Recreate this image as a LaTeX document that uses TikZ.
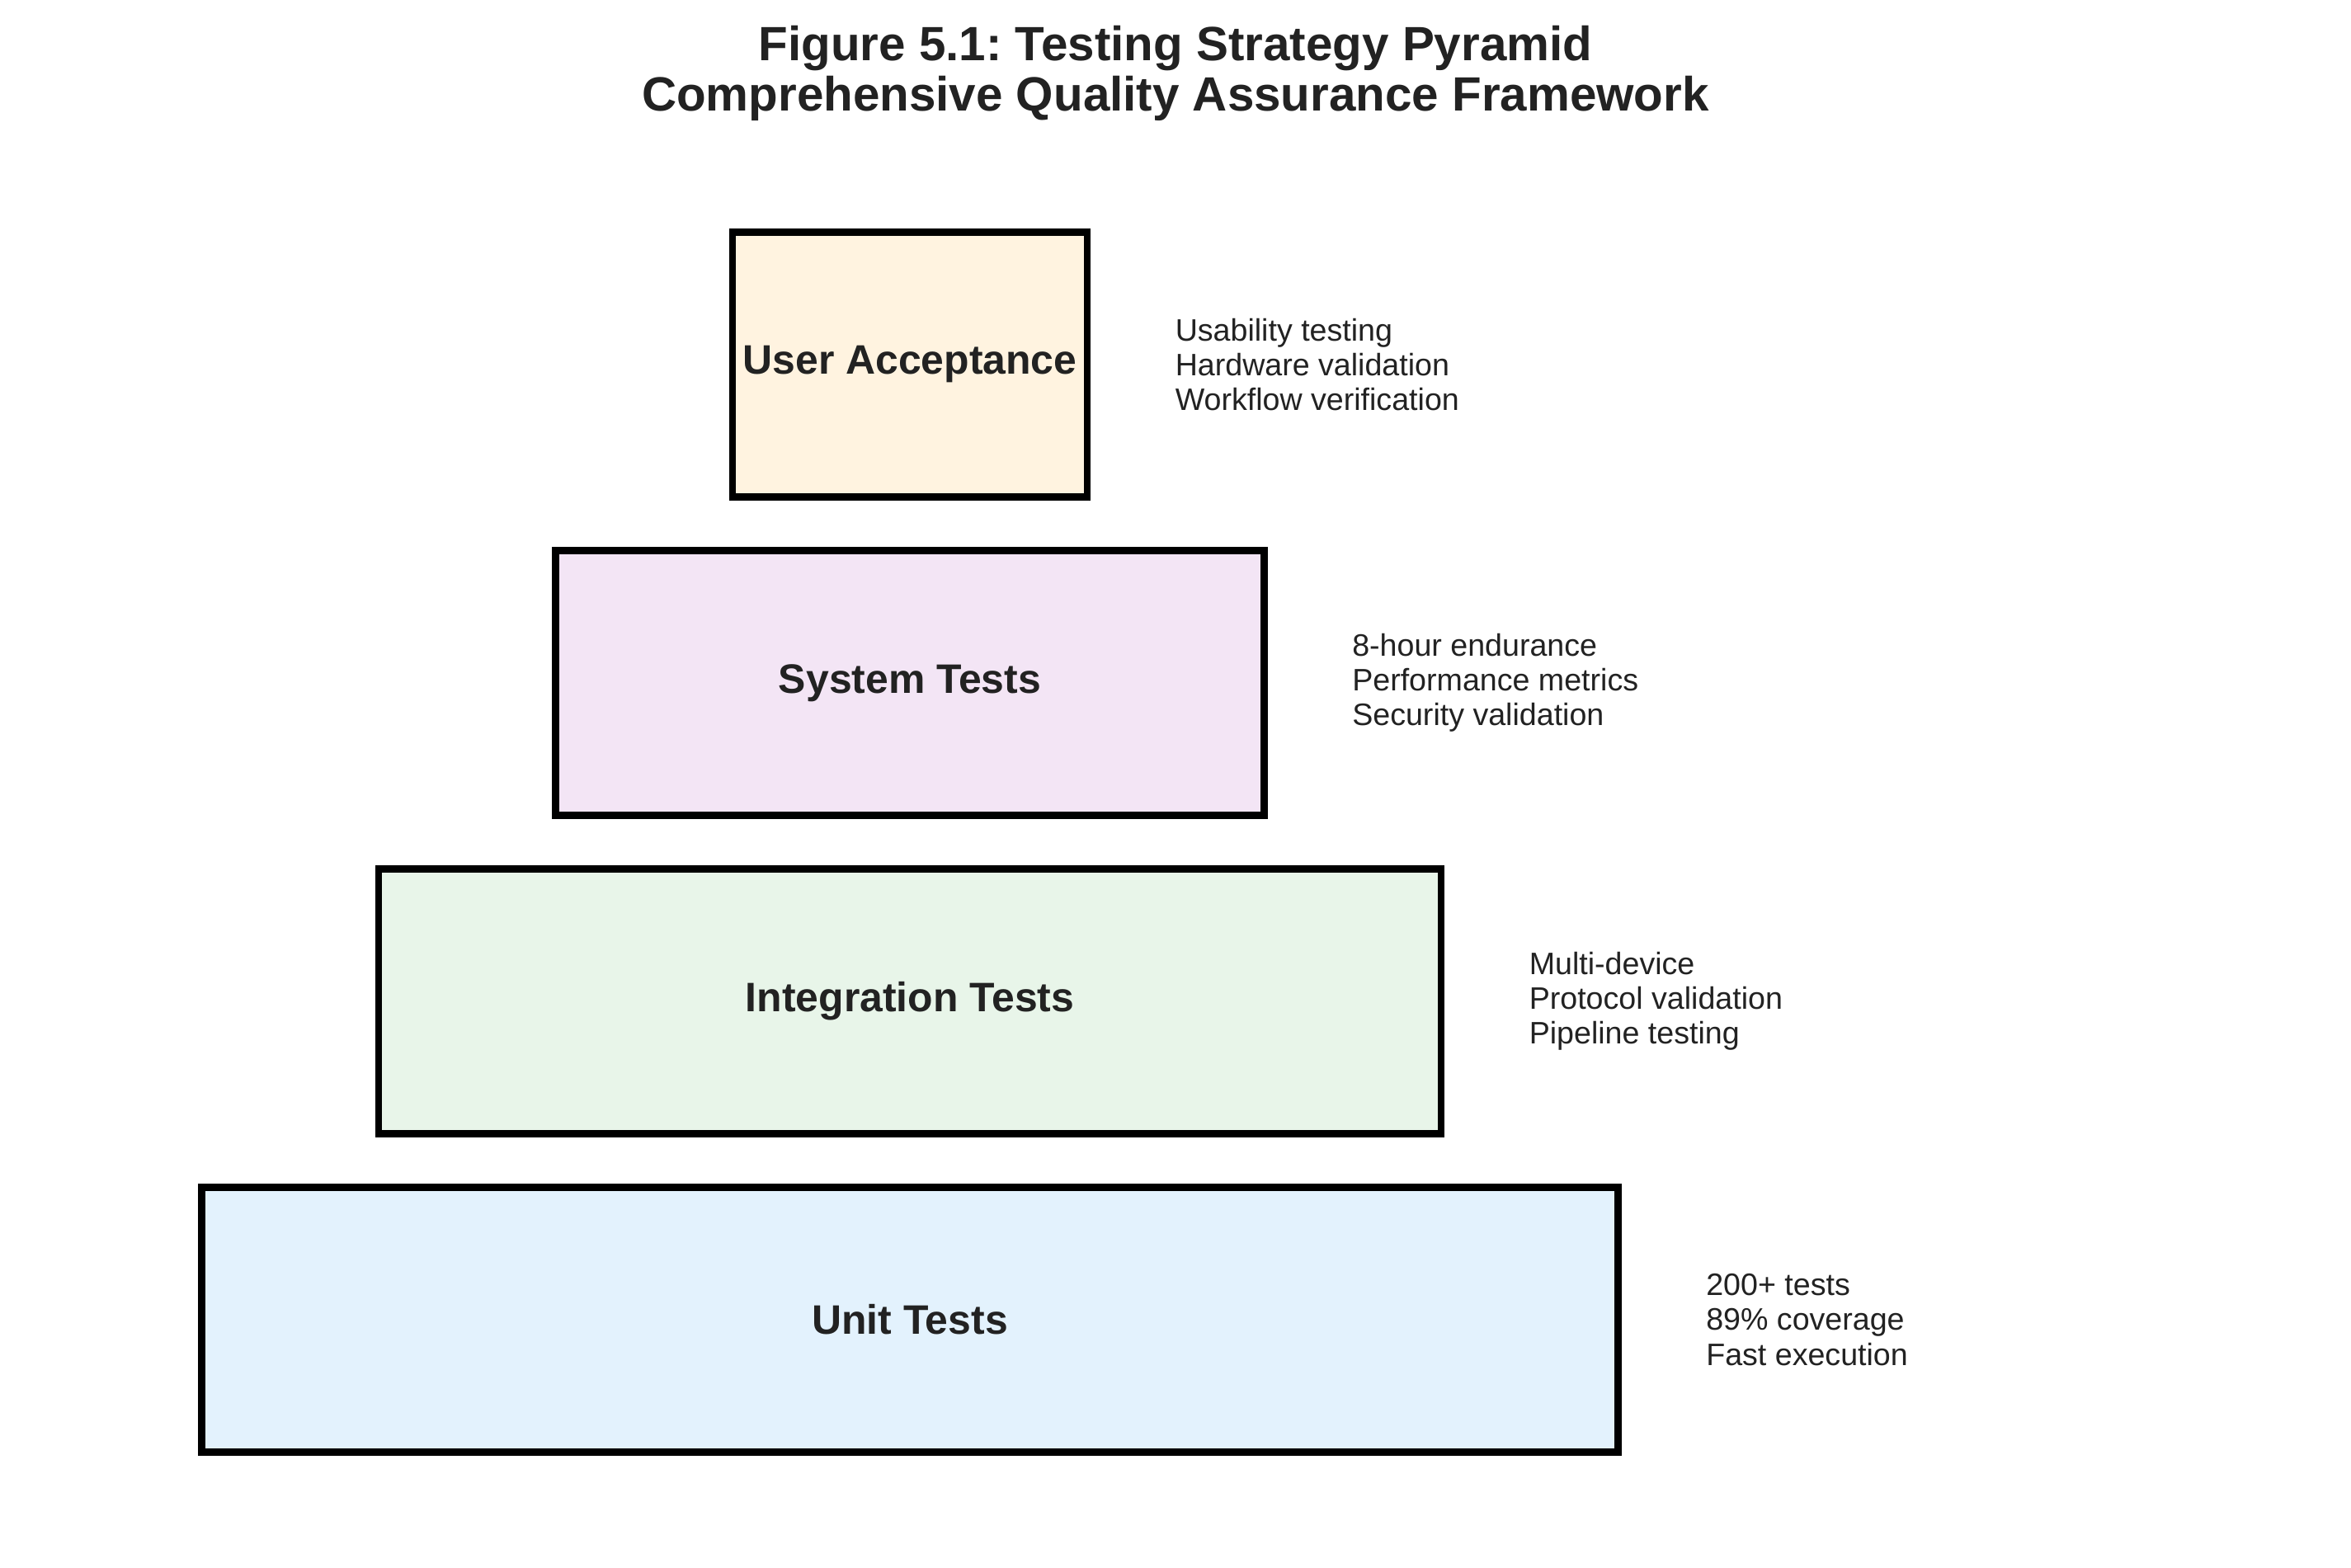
\documentclass[tikz,border=0pt]{standalone}
\usepackage{fontspec}
\setmainfont{Liberation Sans}
\frenchspacing
\begin{document}
\begin{tikzpicture}[
  every node/.style={text=txt},
  tier/.style={draw=black, line width=2.3pt, inner sep=0pt, minimum height=3.21cm,
    font=\fontsize{14.2}{16}\selectfont\bfseries},
  info/.style={anchor=west, align=left, inner sep=0pt, font=\fontsize{10.7}{12}\selectfont},
  ttl/.style={align=center, inner sep=0pt, font=\fontsize{16.6}{17.2}\selectfont\bfseries}
]
\definecolor{txt}{HTML}{222222}
\definecolor{cua}{HTML}{FFF3E0}
\definecolor{cst}{HTML}{F3E5F5}
\definecolor{cit}{HTML}{E8F5E9}
\definecolor{cut}{HTML}{E3F2FD}
\useasboundingbox[fill=white] (0,0) rectangle (28.5,-19);

\node[ttl] (title) at (14.25,-0.89) {Figure 5.1: Testing Strategy Pyramid\\Comprehensive Quality Assurance Framework};

\node[tier, fill=cua, minimum width=4.30cm] (ua) at (11.03,-4.42) {User Acceptance};
\node[tier, fill=cst, minimum width=8.59cm] (st) at (11.03,-8.28) {System Tests};
\node[tier, fill=cit, minimum width=12.88cm] (it) at (11.03,-12.14) {Integration Tests};
\node[tier, fill=cut, minimum width=17.17cm] (ut) at (11.03,-16.00) {Unit Tests};

\node[info] (uainfo) at ([xshift=1.02cm]ua.east) {Usability testing\\Hardware validation\\Workflow verification};
\node[info] (stinfo) at ([xshift=1.02cm]st.east) {8-hour endurance\\Performance metrics\\Security validation};
\node[info] (itinfo) at ([xshift=1.02cm]it.east) {Multi-device\\Protocol validation\\Pipeline testing};
\node[info] (utinfo) at ([xshift=1.02cm]ut.east) {200+ tests\\89\% coverage\\Fast execution};
\end{tikzpicture}
\end{document}
